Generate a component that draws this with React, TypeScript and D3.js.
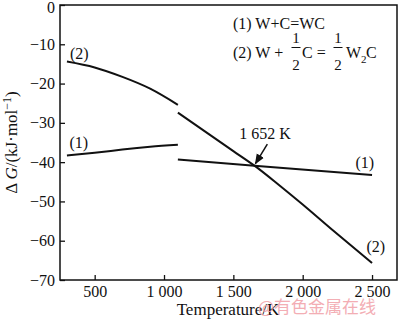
import React, { useEffect, useRef } from 'react';
import * as d3 from 'd3';

// temperature (K) / ΔG (kJ/mol)
const xTicks = [500, 1000, 1500, 2000, 2500];
const yTicks = [0, -10, -20, -30, -40, -50, -60, -70];

const wcLowT = [300, 500, 700, 900, 1100];
const wcLowG = [-38.3, -37.6, -36.8, -36.1, -35.6];
const wcHighT = [1100, 1652, 2500];
const wcHighG = [-39.3, -40.9, -43.3];

const w2cLowT = [300, 500, 700, 900, 1100];
const w2cLowG = [-14.4, -15.9, -18.3, -21.3, -25.4];
const w2cHighT = [1100, 1300, 1500, 1652, 1800, 2000, 2200, 2500];
const w2cHighG = [-27.4, -32.3, -37.2, -40.9, -45.0, -50.8, -56.8, -65.7];

const crossT = 1652;
const crossG = -40.9;

const serif = 'Liberation Serif, Tinos, Times New Roman, DejaVu Serif, serif';
const ink = '#111';

export default function App() {
  const ref = useRef<SVGSVGElement>(null);

  const width = 400;
  const height = 320;
  const margin = { top: 5, right: 3, bottom: 40, left: 60 };

  useEffect(() => {
    draw();
  // eslint-disable-next-line react-hooks/exhaustive-deps
  }, []);

  function draw() {
    const svg = d3.select(ref.current);
    svg.selectAll('*').remove();

    const x = d3.scaleLinear()
      .domain([250, 2680])
      .range([margin.left, width - margin.right]);

    const y = d3.scaleLinear()
      .domain([-70, 0])
      .range([height - margin.bottom, margin.top]);

    const fmtX = (d: any) => (d >= 1000 ? `${Math.floor(d / 1000)} ${String(d % 1000).padStart(3, '0')}` : `${d}`);
    const fmtY = (d: any) => (d < 0 ? `\u2212${-d}` : `${d}`);

    const xAxis = (g: any) => g
      .attr('transform', `translate(0, ${height - margin.bottom})`)
      .call(d3.axisBottom(x).tickValues(xTicks).tickSize(-5).tickPadding(6).tickFormat(fmtX))
      .call(() => g.select('.domain').remove());

    const yAxis = (g: any) => g
      .attr('transform', `translate(${margin.left}, 0)`)
      .call(d3.axisLeft(y).tickValues(yTicks).tickSize(-5).tickPadding(5).tickFormat(fmtY))
      .call(() => g.select('.domain').remove());

    svg.append('g').call(xAxis).attr('font-family', serif).attr('font-size', 16);
    const gy = svg.append('g').call(yAxis).attr('font-family', serif).attr('font-size', 16);

    // keep the top "0" inside the picture
    gy.selectAll('.tick text')
      .filter((d: any) => d === 0)
      .attr('dy', '0.45em');

    svg.selectAll('.tick line')
      .attr('stroke', ink)
      .attr('stroke-width', 1.3);
    svg.selectAll('.tick text')
      .attr('fill', ink);

    // frame
    svg.append('rect')
      .attr('x', margin.left)
      .attr('y', margin.top)
      .attr('width', width - margin.left - margin.right)
      .attr('height', height - margin.top - margin.bottom)
      .attr('fill', 'none')
      .attr('stroke', ink)
      .attr('stroke-width', 1.5);

    const line = d3.line<[number, number]>()
      .x((d) => x(d[0]))
      .y((d) => y(d[1]))
      .curve(d3.curveNatural);

    const segs = [
      d3.zip(wcLowT, wcLowG),
      d3.zip(wcHighT, wcHighG),
      d3.zip(w2cLowT, w2cLowG),
      d3.zip(w2cHighT, w2cHighG),
    ];

    svg.selectAll('.curve')
      .data(segs)
      .enter()
      .append('path')
      .attr('class', 'curve')
      .attr('d', (d: any) => line(d))
      .attr('fill', 'none')
      .attr('stroke', ink)
      .attr('stroke-width', 2);

    const label = (tx: number, gv: number, s: string) => svg.append('text')
      .attr('x', x(tx))
      .attr('y', y(gv))
      .attr('fill', ink)
      .attr('font-family', serif)
      .attr('font-size', 16)
      .text(s);

    label(322, -13.7, '(2)');
    label(318, -36.4, '(1)');
    label(2380, -41.5, '(1)');
    label(2460, -62.8, '(2)');
    label(1543, -34.1, '1 652 K');

    // arrow to the crossing point
    svg.append('defs').append('marker')
      .attr('id', 'head')
      .attr('viewBox', '0 0 10 10')
      .attr('refX', 9)
      .attr('refY', 5)
      .attr('markerWidth', 7)
      .attr('markerHeight', 7)
      .attr('orient', 'auto')
      .append('path')
      .attr('d', 'M0,1 L10,5 L0,9 z')
      .attr('fill', ink);

    svg.append('line')
      .attr('x1', x(1745))
      .attr('y1', y(-35.4))
      .attr('x2', x(crossT) + 1)
      .attr('y2', y(crossG) - 2)
      .attr('stroke', ink)
      .attr('stroke-width', 1.5)
      .attr('marker-end', 'url(#head)');

    // reaction legend
    const lg = svg.append('g')
      .attr('fill', ink)
      .attr('font-family', serif)
      .attr('font-size', 16);

    const t = (px: number, py: number, s: string, anchor = 'start', size = 16) => lg.append('text')
      .attr('x', px)
      .attr('y', py)
      .attr('text-anchor', anchor)
      .attr('font-size', size)
      .text(s);

    t(233, 29, '(1) W+C=WC');
    t(233, 58, '(2) W +');
    const frac = (cx: number) => {
      t(cx, 43, '1', 'middle', 15);
      lg.append('line')
        .attr('x1', cx - 4.5)
        .attr('x2', cx + 4.5)
        .attr('y1', 47.5)
        .attr('y2', 47.5)
        .attr('stroke', ink)
        .attr('stroke-width', 1);
      t(cx, 70, '2', 'middle', 15);
    };
    frac(296);
    t(302, 58, 'C =');
    frac(338);
    t(346, 58, 'W');
    t(361, 63, '2', 'start', 11);
    t(366, 58, 'C');

    // axis titles
    const yt = svg.append('text')
      .attr('transform', `translate(17, ${(margin.top + height - margin.bottom) / 2}) rotate(-90)`)
      .attr('text-anchor', 'middle')
      .attr('fill', ink)
      .attr('font-family', serif)
      .attr('font-size', 17);
    yt.append('tspan').text('\u0394 ');
    yt.append('tspan').attr('font-style', 'italic').text('G');
    yt.append('tspan').text('/(kJ\u00b7mol');
    yt.append('tspan').attr('dy', -6).attr('font-size', 12).text('\u22121');
    yt.append('tspan').attr('dy', 6).text(')');

    svg.append('text')
      .attr('x', 228)
      .attr('y', 315)
      .attr('text-anchor', 'middle')
      .attr('fill', ink)
      .attr('font-family', serif)
      .attr('font-size', 17)
      .text('Temperature/K');

    // source watermark
    svg.append('text')
      .attr('x', 258)
      .attr('y', 313)
      .attr('fill', '#f2a0a8')
      .attr('opacity', 0.85)
      .attr('font-family', 'Noto Sans CJK SC, sans-serif')
      .attr('font-size', 17)
      .text('@有色金属在线');
  }

  return (
    <svg ref={ref} width={width} height={height} style={{ position: 'absolute', left: 0, top: 0, background: '#fff' }} />
  );
}
